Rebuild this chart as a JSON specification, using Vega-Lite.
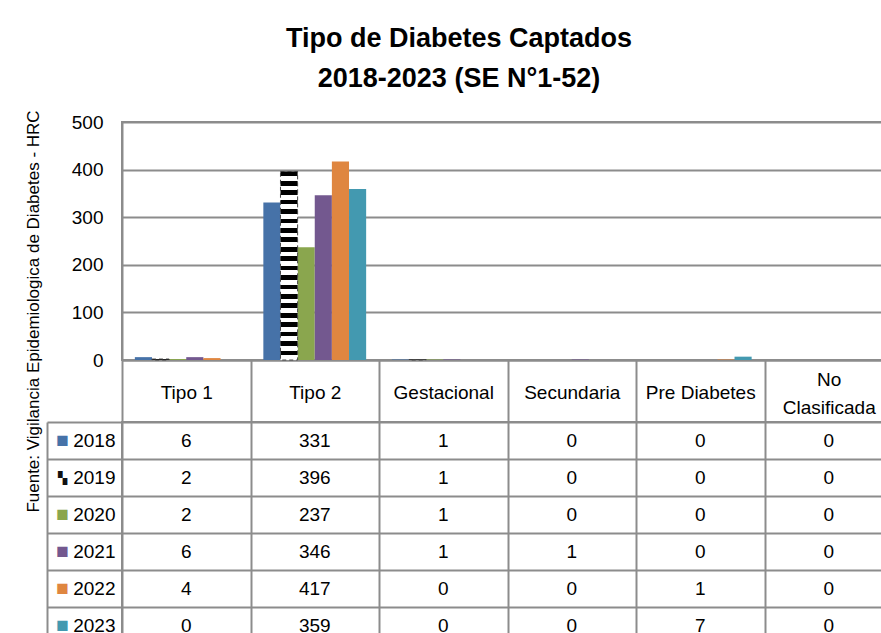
{
  "$schema": "https://vega.github.io/schema/vega-lite/v6.json",
  "padding": {"left": 22, "top": 24, "right": 0, "bottom": 0},
  "background": "white",
  "title": {
    "text": ["Tipo de Diabetes Captados", "2018-2023 (SE N°1-52)"],
    "font": "Liberation Sans", "fontSize": 27, "fontWeight": "bold",
    "lineHeight": 40, "anchor": "middle", "color": "black", "offset": 9
  },
  "data": {"values": [
    {"cat": "Tipo 1", "year": "2018", "value": 6},
    {"cat": "Tipo 1", "year": "2019", "value": 2},
    {"cat": "Tipo 1", "year": "2020", "value": 2},
    {"cat": "Tipo 1", "year": "2021", "value": 6},
    {"cat": "Tipo 1", "year": "2022", "value": 4},
    {"cat": "Tipo 1", "year": "2023", "value": 0},
    {"cat": "Tipo 2", "year": "2018", "value": 331},
    {"cat": "Tipo 2", "year": "2019", "value": 396},
    {"cat": "Tipo 2", "year": "2020", "value": 237},
    {"cat": "Tipo 2", "year": "2021", "value": 346},
    {"cat": "Tipo 2", "year": "2022", "value": 417},
    {"cat": "Tipo 2", "year": "2023", "value": 359},
    {"cat": "Gestacional", "year": "2018", "value": 1},
    {"cat": "Gestacional", "year": "2019", "value": 1},
    {"cat": "Gestacional", "year": "2020", "value": 1},
    {"cat": "Gestacional", "year": "2021", "value": 1},
    {"cat": "Gestacional", "year": "2022", "value": 0},
    {"cat": "Gestacional", "year": "2023", "value": 0},
    {"cat": "Secundaria", "year": "2018", "value": 0},
    {"cat": "Secundaria", "year": "2019", "value": 0},
    {"cat": "Secundaria", "year": "2020", "value": 0},
    {"cat": "Secundaria", "year": "2021", "value": 1},
    {"cat": "Secundaria", "year": "2022", "value": 0},
    {"cat": "Secundaria", "year": "2023", "value": 0},
    {"cat": "Pre Diabetes", "year": "2018", "value": 0},
    {"cat": "Pre Diabetes", "year": "2019", "value": 0},
    {"cat": "Pre Diabetes", "year": "2020", "value": 0},
    {"cat": "Pre Diabetes", "year": "2021", "value": 0},
    {"cat": "Pre Diabetes", "year": "2022", "value": 1},
    {"cat": "Pre Diabetes", "year": "2023", "value": 7},
    {"cat": "No Clasificada", "year": "2018", "value": 0},
    {"cat": "No Clasificada", "year": "2019", "value": 0},
    {"cat": "No Clasificada", "year": "2020", "value": 0},
    {"cat": "No Clasificada", "year": "2021", "value": 0},
    {"cat": "No Clasificada", "year": "2022", "value": 0},
    {"cat": "No Clasificada", "year": "2023", "value": 0}
  ]},
  "bounds": "flush",
  "spacing": 62,
  "config": {
    "font": "Liberation Sans",
    "view": {"stroke": "#8c8c8c", "strokeWidth": 2}
  },
  "vconcat": [
    {
      "width": 771,
      "height": 238,
      "encoding": {
        "x": {"field": "cat", "type": "nominal",
          "scale": {"domain": ["Tipo 1", "Tipo 2", "Gestacional", "Secundaria", "Pre Diabetes", "No Clasificada"], "paddingInner": 0, "paddingOuter": 0},
          "axis": {"title": null, "domainColor": "#8c8c8c", "domainWidth": 2, "ticks": true, "tickBand": "extent", "tickSize": 62, "tickColor": "#8c8c8c", "tickWidth": 2,
            "labelPadding": {"expr": "datum.label == 'No Clasificada' ? -43 : -30"},
            "labelBaseline": "middle", "labelAngle": 0, "labelFontSize": 19, "labelColor": "black", "labelLimit": 0, "labelLineHeight": 28, "labelOverlap": false, "labelFlush": false,
            "labelExpr": "datum.label == 'No Clasificada' ? ['No', 'Clasificada'] : datum.label", "grid": false}},
        "xOffset": {"field": "year", "type": "nominal",
          "scale": {"domain": ["2018", "2019", "2020", "2021", "2022", "2023"], "paddingInner": 0, "paddingOuter": 0.75}},
        "y": {"field": "value", "type": "quantitative",
          "scale": {"domain": [0, 500], "nice": false},
          "axis": {"values": [0, 100, 200, 300, 400, 500], "grid": true, "gridColor": "#8c8c8c", "gridWidth": 2, "domainColor": "#8c8c8c", "domainWidth": 2, "ticks": false, "labelPadding": 19, "labelFontSize": 19, "labelColor": "black",
            "title": "Fuente:  Vigilancia  Epidemiologica  de Diabetes - HRC", "titleFontSize": 17, "titleFontWeight": "normal", "titleColor": "black", "titleAngle": 270, "titleX": -89, "titleY": 189, "titleAlign": "center", "titleBaseline": "middle"}}
      },
      "layer": [
        {
          "transform": [{"filter": "datum.year != '2019'"}],
          "mark": {"type": "bar"},
          "encoding": {
            "color": {"field": "year", "type": "nominal",
              "scale": {"domain": ["2018", "2019", "2020", "2021", "2022", "2023"], "range": ["#4672a8", "#111111", "#8aa64e", "#73588f", "#df8640", "#4399b0"]},
              "legend": null}
          }
        },
        {
          "transform": [{"filter": "datum.year == '2019' && datum.value > 0"}],
          "mark": {"type": "bar", "stroke": "#444444", "strokeWidth": 1, "strokeDash": [4, 3],
            "fill": {"gradient": "linear", "x1": 0, "y1": 0, "x2": 0, "y2": 1, "stops": [
              {"offset": 0.0, "color": "black"}, {"offset": 0.025, "color": "black"}, {"offset": 0.025, "color": "white"}, {"offset": 0.05, "color": "white"},
              {"offset": 0.05, "color": "black"}, {"offset": 0.075, "color": "black"}, {"offset": 0.075, "color": "white"}, {"offset": 0.1, "color": "white"},
              {"offset": 0.1, "color": "black"}, {"offset": 0.125, "color": "black"}, {"offset": 0.125, "color": "white"}, {"offset": 0.15, "color": "white"},
              {"offset": 0.15, "color": "black"}, {"offset": 0.175, "color": "black"}, {"offset": 0.175, "color": "white"}, {"offset": 0.2, "color": "white"},
              {"offset": 0.2, "color": "black"}, {"offset": 0.225, "color": "black"}, {"offset": 0.225, "color": "white"}, {"offset": 0.25, "color": "white"},
              {"offset": 0.25, "color": "black"}, {"offset": 0.275, "color": "black"}, {"offset": 0.275, "color": "white"}, {"offset": 0.3, "color": "white"},
              {"offset": 0.3, "color": "black"}, {"offset": 0.325, "color": "black"}, {"offset": 0.325, "color": "white"}, {"offset": 0.35, "color": "white"},
              {"offset": 0.35, "color": "black"}, {"offset": 0.375, "color": "black"}, {"offset": 0.375, "color": "white"}, {"offset": 0.4, "color": "white"},
              {"offset": 0.4, "color": "black"}, {"offset": 0.425, "color": "black"}, {"offset": 0.425, "color": "white"}, {"offset": 0.45, "color": "white"},
              {"offset": 0.45, "color": "black"}, {"offset": 0.475, "color": "black"}, {"offset": 0.475, "color": "white"}, {"offset": 0.5, "color": "white"},
              {"offset": 0.5, "color": "black"}, {"offset": 0.525, "color": "black"}, {"offset": 0.525, "color": "white"}, {"offset": 0.55, "color": "white"},
              {"offset": 0.55, "color": "black"}, {"offset": 0.575, "color": "black"}, {"offset": 0.575, "color": "white"}, {"offset": 0.6, "color": "white"},
              {"offset": 0.6, "color": "black"}, {"offset": 0.625, "color": "black"}, {"offset": 0.625, "color": "white"}, {"offset": 0.65, "color": "white"},
              {"offset": 0.65, "color": "black"}, {"offset": 0.675, "color": "black"}, {"offset": 0.675, "color": "white"}, {"offset": 0.7, "color": "white"},
              {"offset": 0.7, "color": "black"}, {"offset": 0.725, "color": "black"}, {"offset": 0.725, "color": "white"}, {"offset": 0.75, "color": "white"},
              {"offset": 0.75, "color": "black"}, {"offset": 0.775, "color": "black"}, {"offset": 0.775, "color": "white"}, {"offset": 0.8, "color": "white"},
              {"offset": 0.8, "color": "black"}, {"offset": 0.825, "color": "black"}, {"offset": 0.825, "color": "white"}, {"offset": 0.85, "color": "white"},
              {"offset": 0.85, "color": "black"}, {"offset": 0.875, "color": "black"}, {"offset": 0.875, "color": "white"}, {"offset": 0.9, "color": "white"},
              {"offset": 0.9, "color": "black"}, {"offset": 0.925, "color": "black"}, {"offset": 0.925, "color": "white"}, {"offset": 0.95, "color": "white"},
              {"offset": 0.95, "color": "black"}, {"offset": 0.975, "color": "black"}, {"offset": 0.975, "color": "white"}, {"offset": 1.0, "color": "white"}
            ]}}
        }
      ]
    },
    {
      "width": 771,
      "height": 222,
      "layer": [
        {
          "mark": {"type": "text", "fontSize": 19, "color": "black", "baseline": "middle"},
          "encoding": {
            "x": {"field": "cat", "type": "nominal",
              "scale": {"domain": ["Tipo 1", "Tipo 2", "Gestacional", "Secundaria", "Pre Diabetes", "No Clasificada"], "paddingInner": 0, "paddingOuter": 0},
              "axis": {"title": null, "grid": true, "tickBand": "extent", "gridColor": "#8c8c8c", "gridWidth": 2, "labels": false, "ticks": false, "domain": false}},
            "y": {"field": "year", "type": "nominal",
              "scale": {"domain": ["2018", "2019", "2020", "2021", "2022", "2023"], "paddingInner": 0, "paddingOuter": 0},
              "axis": {"title": null, "grid": true, "gridColor": "#8c8c8c", "gridWidth": 2, "tickBand": "extent", "ticks": true, "tickSize": 75, "tickColor": "#8c8c8c", "tickWidth": 2, "domain": false, "labelPadding": -68, "labelFontSize": 19, "labelColor": "black"}},
            "text": {"field": "value", "type": "quantitative"}
          }
        },
        {
          "mark": {"type": "text", "text": ""},
          "encoding": {
            "y": {"field": "year", "type": "nominal",
              "axis": {"orient": "left", "offset": 75, "title": null, "domain": true, "domainColor": "#8c8c8c", "domainWidth": 2, "ticks": false, "grid": false, "labelPadding": -15, "labelAlign": "center",
                "labelFontSize": {"expr": "datum.value == '2019' ? 12 : 21"},
                "labelExpr": "datum.value == '2019' ? '▚' : '■'",
                "labelColor": {"expr": "datum.value == '2018' ? '#4672a8' : datum.value == '2019' ? '#111111' : datum.value == '2020' ? '#8aa64e' : datum.value == '2021' ? '#73588f' : datum.value == '2022' ? '#df8640' : '#4399b0'"}}}
          }
        }
      ],
      "resolve": {"axis": {"y": "independent"}}
    }
  ]
}
